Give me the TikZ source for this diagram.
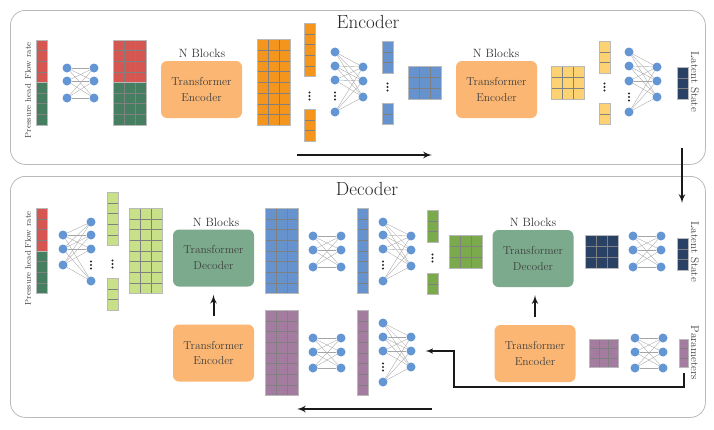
\documentclass[tikz,border=0pt]{standalone}
\usepackage{fontspec}
\usepackage{tikz}
\usepackage{xcolor}
\usetikzlibrary{arrows,calc,positioning}

\definecolor{cred}{RGB}{214,86,82}
\definecolor{cgreen}{RGB}{70,126,98}
\definecolor{corange}{RGB}{244,150,30}
\definecolor{cblue}{RGB}{102,146,206}
\definecolor{cyellow}{RGB}{253,210,115}
\definecolor{cnavy}{RGB}{42,65,102}
\definecolor{clime}{RGB}{200,224,135}
\definecolor{cmoss}{RGB}{122,170,76}
\definecolor{cpurple}{RGB}{163,124,160}
\definecolor{encfill}{RGB}{250,182,114}
\definecolor{decfill}{RGB}{124,170,140}
\definecolor{neuron}{RGB}{100,150,212}

\tikzstyle{cellbox}=[anchor=north west,inner sep=0pt,outer sep=0pt]
\tikzstyle{cellline}=[black!50,line width=0.4pt]
\tikzstyle{cellrim}=[gray!55,line width=0.6pt]
\tikzstyle{neuron}=[circle,fill=neuron,inner sep=0pt,minimum size=9pt]
\tikzstyle{synapse}=[gray!70,line width=0.35pt]
\tikzstyle{encblk}=[rounded corners=6pt,fill=encfill,minimum width=81pt,minimum height=57pt,align=center,text=black!75,font=\fontsize{11.5}{16}\selectfont]
\tikzstyle{decblk}=[encblk,fill=decfill]
\tikzstyle{boxframe}=[draw=gray!55,line width=0.8pt,rounded corners=15pt,anchor=north west,inner sep=0pt]
\tikzstyle{sectitle}=[text=black!85,font=\fontsize{19}{22}\selectfont]
\tikzstyle{nblk}=[text=black!80,font=\fontsize{12}{14}\selectfont]
\tikzstyle{sidelbl}=[text=black!75,rotate=-90,font=\fontsize{11.2}{13}\selectfont]
\tikzstyle{inlbl}=[text=black!75,rotate=90,font=\fontsize{8.4}{10}\selectfont]
\tikzstyle{flowarr}=[->,line width=2pt,black!90]

% name, x, y, cols, rows, colour, cell width, cell height
\newcommand{\cells}[8]{%
  \node[cellbox,fill=#6,minimum width=#4*#7pt,minimum height=#5*#8pt] (#1) at (#2,#3) {};
  \foreach \i in {1,...,#4} {\foreach \j in {1,...,#5} {%
    \draw[cellline] ($(#1.north west)+(\i*#7-#7,\j*#8-#8)$) rectangle ++(#7,#8);}}
  \draw[cellrim] (#1.north west) rectangle (#1.south east);
}
% name, x left, x right, left ys, right ys
\newcommand{\nnet}[5]{%
  \foreach \yy [count=\k] in {#4} \node[neuron] (#1l\k) at (#2,\yy) {};
  \foreach \yy [count=\k] in {#5} \node[neuron] (#1r\k) at (#3,\yy) {};
  \foreach \aa [count=\i] in {#4} {\foreach \bb [count=\j] in {#5} {\draw[synapse] (#1l\i) -- (#1r\j);}}
}
\newcommand{\vdts}[3]{%
  \coordinate (#1) at (#2,#3);
  \foreach \dd in {-3.5,0,3.5} \fill[black!85] ($(#1)+(0,\dd)$) circle (1.1pt);
}

\begin{document}
\begin{tikzpicture}[x=1pt,y=-1pt,>=latex']
\useasboundingbox (0,0) rectangle (714,429);
\node[boxframe,minimum width=695pt,minimum height=154pt] (encframe) at (10,10) {};
\node[boxframe,minimum width=695pt,minimum height=241pt] (decframe) at (10,176) {};
\node[sectitle] (enctitle) at (368,22) {Encoder};
\node[sectitle] (dectitle) at (367,189) {Decoder};

% encoder
\node[inlbl] (eflow) at (28,61) {Flow rate};
\node[inlbl] (epres) at (28,111) {Pressure head};
\cells{einf}{36}{40}{1}{4}{cred}{11}{10.6}
\cells{einp}{36}{82.4}{1}{4}{cgreen}{11}{10.6}
\nnet{nnA}{67}{94}{68,81,98}{68,81,98}
\cells{emf}{113}{40}{3}{4}{cred}{11}{10.6}
\cells{emp}{113}{82.4}{3}{4}{cgreen}{11}{10.6}
\node[nblk] (nbA) at (202,53) {N Blocks};
\node[encblk] (tencA) at (201.5,89.5) {Transformer\\Encoder};
\cells{eor}{257}{39.5}{3}{8}{corange}{11}{10.7}
\cells{eoa}{304}{23}{1}{5}{corange}{11}{10.7}
\vdts{eod}{309.5}{96}
\cells{eob}{304}{109}{1}{3}{corange}{11}{10.7}
\nnet{nnB}{335}{363}{52,66,80,112}{67,81,97}
\vdts{nnBd}{335}{96}
\cells{eba}{382}{41}{1}{3}{cblue}{11}{10.7}
\vdts{ebd}{387.5}{87}
\cells{ebb}{382}{103}{1}{2}{cblue}{11}{10.7}
\cells{ebm}{408}{66}{3}{3}{cblue}{11}{11}
\node[nblk] (nbB) at (496,53) {N Blocks};
\node[encblk] (tencB) at (496.5,89.5) {Transformer\\Encoder};
\cells{eym}{551}{66}{3}{3}{cyellow}{11}{11}
\cells{eya}{599}{41}{1}{3}{cyellow}{11}{10.7}
\vdts{eyd}{604.5}{87}
\cells{eyb}{599}{103}{1}{2}{cyellow}{11}{10.7}
\nnet{nnC}{629}{657}{52,66,81,112}{67,81,97}
\vdts{nnCd}{629}{97}
\cells{elat}{677}{67}{1}{3}{cnavy}{11}{10.7}
\node[sidelbl] (elatlbl) at (695,82) {Latent State};
\coordinate (encA) at (297,155);
\coordinate (encB) at (432,155);
\draw[flowarr] (encA) -- (encB);

% encoder to decoder
\coordinate (lsout) at (682,148);
\coordinate (lsin) at (682,203);
\draw[flowarr] (lsout) -- (lsin);

% decoder, top row
\node[inlbl] (dflow) at (28,230) {Flow rate};
\node[inlbl] (dpres) at (28,278) {Pressure head};
\cells{dinf}{36}{208}{1}{4}{cred}{11}{10.7}
\cells{dinp}{36}{250.8}{1}{4}{cgreen}{11}{10.7}
\nnet{nnD}{63}{91}{235,249,265}{222,235,249,281}
\vdts{nnDd}{91}{265}
\cells{dla}{107}{192}{1}{5}{clime}{11}{10.7}
\vdts{dld}{112.5}{264}
\cells{dlb}{107}{278}{1}{3}{clime}{11}{10.7}
\cells{dlm}{129}{208}{3}{8}{clime}{11}{10.7}
\node[nblk] (nbC) at (216,222) {N Blocks};
\node[decblk] (tdecA) at (213.5,258) {Transformer\\Decoder};
\cells{dbm}{265}{208}{3}{8}{cblue}{11}{10.7}
\nnet{nnE}{313}{341}{236,250,267}{236,250,267}
\cells{dbc}{357}{208}{1}{8}{cblue}{11}{10.7}
\nnet{nnF}{383}{411}{222,235,249,281}{236,250,266}
\vdts{nnFd}{383}{265}
\cells{dga}{427}{210}{1}{3}{cmoss}{11}{10.7}
\vdts{dgd}{432.5}{258}
\cells{dgb}{427}{273}{1}{2}{cmoss}{11}{10.7}
\cells{dgm}{449}{235}{3}{3}{cmoss}{11}{11}
\node[nblk] (nbD) at (533,222) {N Blocks};
\node[decblk] (tdecB) at (533,258.5) {Transformer\\Decoder};
\cells{dnm}{585}{235}{3}{3}{cnavy}{11}{11}
\nnet{nnG}{633}{661}{236,250,267}{236,250,267}
\cells{dlat}{677}{238}{1}{3}{cnavy}{11}{10.7}
\node[sidelbl] (dlatlbl) at (695,252) {Latent State};

% decoder, bottom row
\node[encblk] (tencC) at (213.5,353) {Transformer\\Encoder};
\cells{dpm}{265}{310}{3}{8}{cpurple}{11}{10.7}
\nnet{nnH}{313}{341}{338,352,368}{338,352,368}
\cells{dpc}{357}{310}{1}{8}{cpurple}{11}{10.7}
\nnet{nnI}{383}{411}{323,337,351,382}{337,351,367}
\vdts{nnId}{383}{367}
\node[encblk] (tencD) at (535,353.5) {Transformer\\Encoder};
\cells{dps}{589}{339}{3}{3}{cpurple}{9.7}{9.5}
\nnet{nnJ}{635}{663}{338,352,368}{338,352,368}
\cells{dpar}{679}{339}{1}{3}{cpurple}{9.5}{9.4}
\node[sidelbl] (dparlbl) at (695,353) {Parameters};

\draw[flowarr,shorten <=8pt,shorten >=8pt] (tencC.north) -- (tdecA.south);
\draw[flowarr,shorten <=8pt,shorten >=8pt] (tencD.north) -- (tencD.north |- tdecB.south);
\coordinate (pturn) at (454,387);
\draw[flowarr,line width=1.5pt,shorten <=6pt,shorten >=10pt] (dpar.south) |- (pturn) |- (nnIr2);
\coordinate (decA) at (432,409);
\coordinate (decB) at (297,409);
\draw[flowarr] (decA) -- (decB);
\end{tikzpicture}
\end{document}
